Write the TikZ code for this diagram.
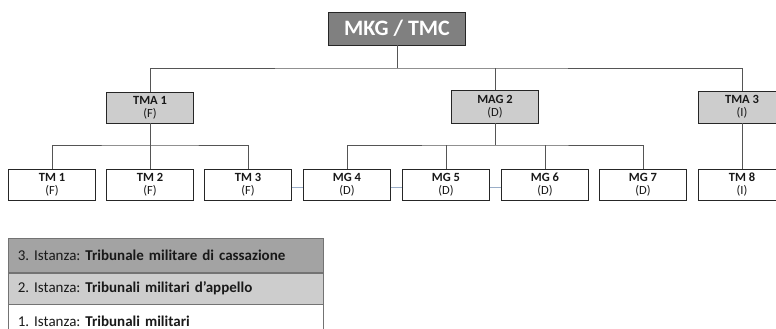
\documentclass[tikz,border=0pt]{standalone}
\usepackage{fontspec}
\setmainfont{Carlito}
\frenchspacing
\definecolor{darkbox}{HTML}{808080}
\definecolor{lightbox}{HTML}{CDCDCD}
\definecolor{midrow}{HTML}{A3A3A3}
\definecolor{wire}{HTML}{555555}
\definecolor{bluewire}{HTML}{9AAEC8}
\begin{document}
\begin{tikzpicture}[x=1pt,y=-1pt,
        court/.style={draw=black!85,line width=0.8pt,minimum width=87pt,minimum height=31pt,
            inner sep=0pt,align=center,font=\fontsize{12.5}{13}\selectfont,text=black!90},
        appeal/.style={court,fill=lightbox},
        chief/.style={draw=black!85,line width=0.8pt,fill=darkbox,minimum width=137pt,minimum height=33pt,
            inner sep=0pt,text=white,font=\fontsize{22}{24}\selectfont\bfseries},
        bus/.style={draw=wire,line width=0.8pt},
        link/.style={draw=bluewire,line width=0.6pt},
        row/.style={draw=black!55,line width=0.6pt,minimum width=315pt,inner sep=0pt,anchor=north west,
            text width=296pt,align=left,font=\fontsize{15}{17}\selectfont,text=black!90}]
                \useasboundingbox[fill=white] (0,0) rectangle (776,329);
                \node[chief] (mkg) at (397,28.5) {MKG / TMC};
                \node[appeal] (tma1) at (150,107.5) {\textbf{TMA 1}\\(F)};
                \node[appeal,minimum height=33pt] (mag2) at (495,106.5) {\textbf{MAG 2}\\(D)};
                \node[appeal,minimum height=32pt] (tma3) at (742,107) {\textbf{TMA 3}\\(I)};
                \node[court] (tm1) at (52,184.5) {\textbf{TM 1}\\(F)};
                \node[court] (tm2) at (150,184.5) {\textbf{TM 2}\\(F)};
                \node[court] (tm3) at (248,184.5) {\textbf{TM 3}\\(F)};
                \node[court] (mg4) at (347,184.5) {\textbf{MG 4}\\(D)};
                \node[court] (mg5) at (446,184.5) {\textbf{MG 5}\\(D)};
                \node[court] (mg6) at (545,184.5) {\textbf{MG 6}\\(D)};
                \node[court] (mg7) at (643,184.5) {\textbf{MG 7}\\(D)};
                \node[court] (tm8) at (742,184.5) {\textbf{TM 8}\\(I)};
                \coordinate (topbus) at (397,68);
                \coordinate (fbus) at (150,145);
                \coordinate (dbus) at (495,145);
                \draw[bus] (mkg.south) -- (topbus);
                \draw[bus] (tma1.north) |- (topbus) -| (tma3.north);
                \draw[bus] (mag2.north) -- (mag2.north |- topbus);
                \draw[bus] (tma1.south) -- (fbus);
                \draw[bus] (tm1.north) |- (fbus) -| (tm3.north);
                \draw[bus] (tm2.north) -- (fbus);
                \draw[bus] (mag2.south) -- (dbus);
                \draw[bus] (mg4.north) |- (dbus) -| (mg7.north);
                \draw[bus] (mg5.north) -- (mg5.north |- dbus);
                \draw[bus] (mg6.north) -- (mg6.north |- dbus);
                \draw[bus] (tma3.south) -- (tm8.north);
                \draw[link] (tm3.east |- 0,187) -- (mg4.west |- 0,187);
                \draw[link] (mg4.east |- 0,187) -- (mg5.west |- 0,187);
                \draw[link] (mg5.east |- 0,187) -- (mg6.west |- 0,187);
                \node[row,fill=midrow,minimum height=34pt] (third) at (8,238) {3. Istanza: \textbf{Tribunale militare di cassazione}};
                \node[row,fill=lightbox,minimum height=31pt] (second) at (third.south west) {2. Istanza: \textbf{Tribunali militari d'appello}};
                \node[row,fill=white,minimum height=34pt,text height=10pt,text depth=0pt] (first) at (second.south west) {1. Istanza: \textbf{Tribunali militari}};
            \end{tikzpicture}
\end{document}
